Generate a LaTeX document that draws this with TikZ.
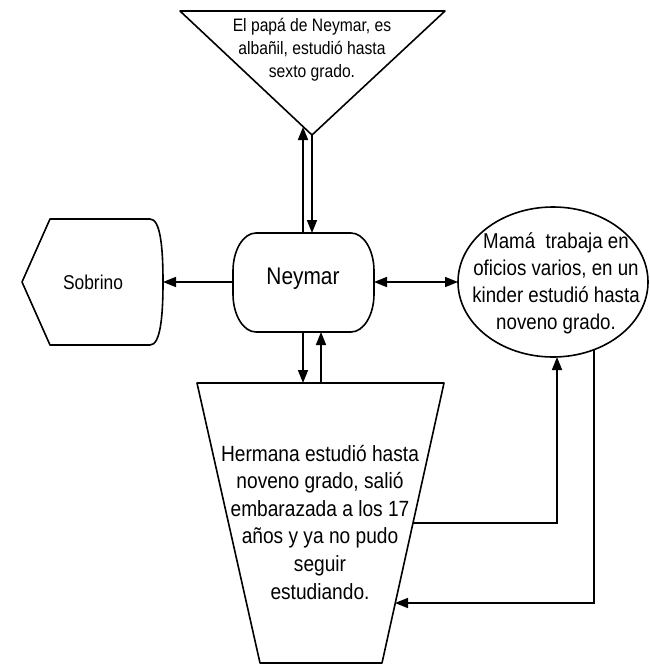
\documentclass[tikz,border=0pt]{standalone}
\usepackage{fontspec}
\setmainfont{Liberation Sans}[FakeStretch=0.87]
\usetikzlibrary{arrows.meta}
\tikzset{
  shapeline/.style={draw=black, line width=1.6pt, line join=round, fill=white},
  conn/.style={draw=black, line width=1.6pt, -{Triangle[length=13pt,width=10pt]}},
  dconn/.style={draw=black, line width=1.6pt, {Triangle[length=13pt,width=10pt]}-{Triangle[length=13pt,width=10pt]}},
  lbl/.style={align=center, inner sep=0pt, text=black}
}
\begin{document}
\begin{tikzpicture}[x=1pt,y=-1pt]
\useasboundingbox[fill=white] (0,0) rectangle (649,664);

% shapes
\draw[shapeline] (180,11) -- (445,11) -- (312,135) -- cycle;
\draw[shapeline] (256,233) -- (351,233) arc[start angle=-90, end angle=0, x radius=23, y radius=38]
  -- (374,294) arc[start angle=0, end angle=90, x radius=23, y radius=38]
  -- (256,332) arc[start angle=90, end angle=180, x radius=23, y radius=38]
  -- (233,271) arc[start angle=180, end angle=270, x radius=23, y radius=38] -- cycle;
\draw[shapeline] (22,282) -- (50,219) -- (150,219)
  .. controls (160,219) and (163,245) .. (163,282)
  .. controls (163,319) and (160,345) .. (150,345) -- (50,345) -- cycle;
\draw[shapeline] (553,282) ellipse[x radius=95, y radius=75];
\draw[shapeline] (197,383) -- (444,383) -- (382,663) -- (260,663) -- cycle;

% texts
\node[lbl, font=\fontsize{18}{23}\selectfont] (papa) at (312,50) {El papá de Neymar, es\\albañil, estudió hasta\\sexto grado.};
\node[lbl, font=\fontsize{24}{28}\selectfont] (neymar) at (303,279) {Neymar};
\node[lbl, font=\fontsize{20}{24}\selectfont] (sobrino) at (93,282) {Sobrino};
\node[lbl, font=\fontsize{21.5}{27}\selectfont] (mama) at (556,283) {Mamá\ \ trabaja en\\oficios varios, en un\\kinder estudió hasta\\noveno grado.};
\node[lbl, font=\fontsize{22}{27.6}\selectfont] (hermana) at (320,522) {Hermana estudió hasta\\noveno grado, salió\\embarazada a los 17\\años y ya no pudo\\seguir\\estudiando.};

% connection points
\coordinate (papaApex) at (312,135);
\coordinate (papaLeft) at (303,127);
\coordinate (neyTopA) at (303,233);
\coordinate (neyTopB) at (312,233);
\coordinate (neyBotA) at (303,332);
\coordinate (neyBotB) at (321,332);
\coordinate (neyL) at (233,282);
\coordinate (neyR) at (374,282);
\coordinate (sobR) at (163,282);
\coordinate (mamaL) at (458,282);
\coordinate (mamaBotA) at (557,357);
\coordinate (mamaBotB) at (594,350);
\coordinate (herTopA) at (303,383);
\coordinate (herTopB) at (321,383);
\coordinate (herR1) at (413,523);
\coordinate (herR2) at (395,603);
\coordinate (bendA) at (557,523);
\coordinate (bendB) at (594,603);

% connectors
\draw[conn] (neyTopA) -- (papaLeft);
\draw[conn] (papaApex) -- (neyTopB);
\draw[conn] (neyL) -- (sobR);
\draw[dconn] (neyR) -- (mamaL);
\draw[conn] (neyBotA) -- (herTopA);
\draw[conn] (herTopB) -- (neyBotB);
\draw[conn] (herR1) -- (bendA) -- (mamaBotA);
\draw[conn] (mamaBotB) -- (bendB) -- (herR2);
\end{tikzpicture}
\end{document}
